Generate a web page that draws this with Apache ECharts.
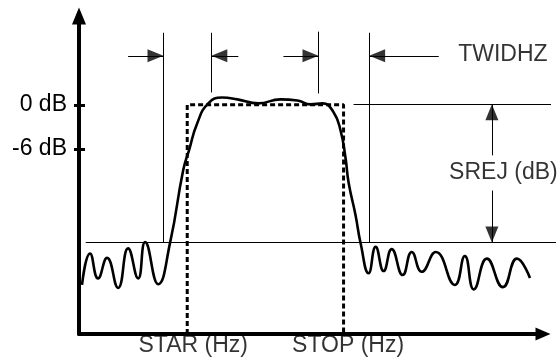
<!DOCTYPE html>
<html>
<head>
<meta charset="utf-8">
<script src="https://cdn.jsdelivr.net/npm/echarts@6/dist/echarts.min.js"></script>
<style>
html,body{margin:0;padding:0;background:#fff;}
#chart{width:560px;height:364px;}
</style>
</head>
<body>
<div id="chart"></div>
<script>
// Frequency response (arbitrary frequency units, gain in dB)
const responseFreq = [3, 11, 19, 28, 39, 49, 59, 66, 79, 91, 104, 110, 118, 129, 143, 158, 179, 201, 218, 231, 243, 254, 261, 266, 269, 276, 281, 289, 296, 304, 312, 323, 332, 342, 356, 375, 385, 394, 407, 423, 437, 450];
const responseGain = [-24.6, -20.3, -23.7, -20.9, -25.0, -19.6, -23.7, -18.75, -24.5, -18.75, -8.9, -6.1, -2.5, 0.2, 1.0, 0.75, 0.2, 0.75, 0.6, 0.07, 0.2, -1.0, -3.5, -7.3, -10.6, -15.1, -18.9, -23.0, -19.4, -22.7, -19.7, -23.25, -20.1, -22.8, -20.1, -24.6, -20.65, -25.2, -21.0, -24.9, -21.0, -23.65];

// Ideal passband (dashed box)
const idealFreq = [108, 108, 264, 264];
const idealGain = [-31.3, 0, 0, -31.3];

// Y tick labels
const yTickValues = [0, -6];
const yTickUnit = ' dB';

// Guide lines: [x1, y1, x2, y2]
const guideLines = [
  [6.7, -18.8, 476, -18.8],
  [274, 0.1, 471, 0.1],
  [84.3, 9.85, 84.3, -18.8],
  [132, 9.85, 132, 1.7],
  [239, 10.0, 239, 1.55],
  [289.5, 9.85, 289.5, -18.8]
];
// Arrows: [xFrom, yFrom, xTip, yTip, direction]
const arrows = [
  [49, 6.7, 84.3, 6.7, 'right'],
  [159, 6.7, 132, 6.7, 'left'],
  [204, 6.7, 239, 6.7, 'right'],
  [359, 6.7, 289.5, 6.7, 'left'],
  [412, -6.9, 412, 0.1, 'up'],
  [412, -11.7, 412, -18.8, 'down']
];
// Annotation texts
const annoText = ['TWIDHZ', 'SREJ (dB)', 'STAR (Hz)', 'STOP (Hz)'];
const annoX = [423, 423.5, 114, 268.5];
const annoY = [6.8, -9.2, -32.9, -32.9];

const FONT = 'Liberation Sans, Arial, sans-serif';
const FS = 23;
const headH = 16, headW = 13;
const rot = {right: -90, left: 90, up: 0, down: 180};
const off = {right: [-headH/2, 0], left: [headH/2, 0], up: [0, headH/2], down: [0, -headH/2]};

const chart = echarts.init(document.getElementById('chart'), null, {renderer: 'canvas'});
const option = {
  animation: false,
  backgroundColor: '#fff',
  grid: {left: 79, right: 17, top: 16, bottom: 30},
  xAxis: {
    type: 'value', min: 0, max: 463,
    splitLine: {show: false},
    axisTick: {show: false},
    axisLabel: {show: false},
    axisLine: {show: true, onZero: false, symbol: ['none', 'triangle'], symbolSize: [13, 15],
      lineStyle: {color: '#000', width: 4}}
  },
  yAxis: [{
    type: 'value', min: -31.3, max: 12.14, position: 'left',
    splitLine: {show: false},
    axisLine: {show: true, onZero: false, symbol: ['none', 'triangle'], symbolSize: [14, 17],
      lineStyle: {color: '#000', width: 4}},
    axisTick: {show: true, customValues: yTickValues, length: 5, lineStyle: {color: '#000', width: 3}},
    axisLabel: {show: true, customValues: yTickValues, margin: 12, color: '#000',
      fontFamily: FONT, fontSize: FS, formatter: v => v + yTickUnit}
  }, {
    type: 'value', min: -31.3, max: 12.14, position: 'left', offset: 0,
    splitLine: {show: false},
    axisLine: {show: false, onZero: false},
    axisTick: {show: true, inside: true, customValues: yTickValues, length: 6, lineStyle: {color: '#000', width: 3}},
    axisLabel: {show: false}
  }],
  series: [
    {
      type: 'line', smooth: 0.5, showSymbol: false, silent: true,
      data: responseFreq.map((f, i) => [f, responseGain[i]]),
      lineStyle: {color: '#000', width: 2.6}, z: 5
    },
    {
      type: 'line', showSymbol: false, silent: true,
      data: idealFreq.map((f, i) => [f, idealGain[i]]),
      lineStyle: {color: '#000', width: 3, type: [5, 3]}, z: 4
    },
    {
      type: 'lines', coordinateSystem: 'cartesian2d', clip: false, silent: true,
      data: guideLines.concat(arrows).map(a => ({coords: [[a[0], a[1]], [a[2], a[3]]]})),
      lineStyle: {color: '#000', width: 1, opacity: 1}, symbol: 'none'
    },
    {
      type: 'scatter', clip: false, silent: true, symbol: 'triangle', symbolSize: [headW, headH],
      itemStyle: {color: '#000'},
      data: arrows.map(a => ({value: [a[2], a[3]], symbolRotate: rot[a[4]], symbolOffset: off[a[4]]}))
    },
    {
      type: 'scatter', clip: false, silent: true, symbolSize: 0,
      data: annoText.map((t, i) => ({value: [annoX[i], annoY[i]], name: t})),
      label: {show: true, position: 'inside', formatter: p => p.name, color: '#000',
        fontFamily: FONT, fontSize: FS}
    }
  ]
};
chart.setOption(option);
</script>
</body>
</html>
